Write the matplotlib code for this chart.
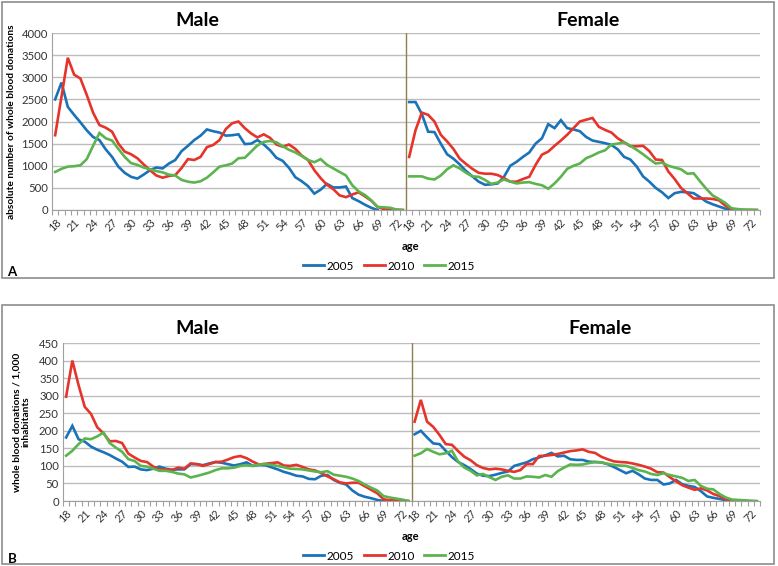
import numpy as np
import matplotlib
matplotlib.use("Agg")
import matplotlib.pyplot as plt
from matplotlib.patches import Rectangle
from matplotlib.lines import Line2D

W, H = 778, 566

ages = list(range(18, 74))
tick_ages = list(range(18, 73, 3))
years = ["2005", "2010", "2015"]
colors = ["#1a72b8", "#e5342b", "#5cb44e"]

# Panel A - absolute number of whole blood donations (ages 18..73)
male_abs_2005 = [2500, 2880, 2330, 2150, 1980, 1800, 1650, 1580, 1370, 1200,
                 980, 840, 750, 710, 800, 900, 960, 940, 1050, 1130,
                 1330, 1450, 1580, 1680, 1820, 1780, 1750, 1680, 1690, 1710,
                 1490, 1500, 1580, 1480, 1350, 1180, 1110, 950, 740, 650,
                 540, 370, 460, 590, 510, 510, 530, 270, 200, 120,
                 50, 0]
male_abs_2010 = [1690, 2560, 3440, 3060, 2970, 2600, 2200, 1920, 1860, 1770,
                 1500, 1320, 1260, 1170, 1030, 900, 780, 730, 770, 790,
                 950, 1150, 1130, 1200, 1420, 1470, 1580, 1830, 1960, 2000,
                 1850, 1730, 1640, 1710, 1630, 1480, 1430, 1480, 1380, 1230,
                 1130, 900, 720, 570, 470, 330, 290, 350, 400, 310,
                 210, 70, 20, 20, 5, 0]
male_abs_2015 = [860, 930, 980, 990, 1010, 1150, 1450, 1740, 1620, 1570,
                 1380, 1200, 1060, 1020, 960, 920, 880, 850, 800, 780,
                 680, 640, 620, 650, 730, 850, 980, 1010, 1050, 1170,
                 1180, 1320, 1460, 1540, 1560, 1530, 1440, 1360, 1300, 1220,
                 1130, 1080, 1150, 1020, 940, 860, 780, 560, 420, 340,
                 220, 70, 60, 50, 10, 0]
female_abs_2005 = [2440, 2440, 2170, 1770, 1760, 1500, 1260, 1160, 1030, 880,
                   760, 640, 570, 580, 600, 750, 1000, 1090, 1200, 1300,
                   1500, 1620, 1940, 1850, 2030, 1850, 1820, 1780, 1650, 1570,
                   1540, 1510, 1470, 1370, 1200, 1140, 980, 760, 640, 500,
                   400, 270, 380, 410, 400, 380, 290, 190, 130, 80,
                   30, 5, 0]
female_abs_2010 = [1200, 1800, 2200, 2150, 2000, 1700, 1550, 1380, 1160, 1040,
                   930, 840, 820, 820, 790, 720, 640, 640, 700, 750,
                   1020, 1250, 1320, 1450, 1570, 1700, 1850, 2000, 2040, 2080,
                   1880, 1810, 1750, 1620, 1530, 1440, 1440, 1450, 1330, 1140,
                   1130, 870, 700, 500, 380, 260, 260, 260, 250, 220,
                   100, 20, 5, 0, 0, 0]
female_abs_2015 = [760, 760, 760, 710, 690, 780, 920, 1010, 940, 840,
                   760, 750, 680, 590, 620, 690, 640, 600, 620, 630,
                   590, 560, 480, 600, 750, 930, 1000, 1050, 1170, 1230,
                   1300, 1350, 1480, 1500, 1530, 1450, 1360, 1260, 1150, 1050,
                   1070, 1000, 960, 920, 820, 830, 650, 480, 330, 250,
                   160, 40, 20, 10, 5, 0]

# Panel B - whole blood donations per 1,000 inhabitants (ages 18..73)
male_rate_2005 = [181, 214, 176, 169, 155, 146, 139, 131, 121, 112,
                  97, 98, 90, 88, 92, 98, 92, 89, 90, 90,
                  105, 105, 102, 107, 111, 109, 105, 101, 105, 110,
                  100, 103, 102, 96, 90, 83, 78, 72, 70, 63,
                  62, 72, 74, 60, 52, 47, 30, 18, 12, 8,
                  3, 0]
male_rate_2010 = [297, 400, 330, 268, 248, 210, 193, 170, 171, 165,
                  135, 124, 114, 111, 98, 90, 90, 88, 95, 92,
                  107, 105, 100, 105, 111, 112, 118, 125, 128, 122,
                  112, 104, 106, 108, 110, 101, 100, 103, 97, 90,
                  87, 80, 70, 62, 53, 50, 52, 52, 42, 32,
                  22, 5, 2, 2, 0, 0]
male_rate_2015 = [129, 143, 162, 178, 176, 184, 195, 165, 152, 140,
                  119, 114, 100, 98, 92, 86, 86, 83, 78, 76,
                  67, 71, 76, 81, 88, 93, 93, 95, 100, 102,
                  100, 104, 105, 103, 100, 96, 92, 91, 90, 87,
                  84, 82, 85, 75, 72, 69, 64, 57, 47, 38,
                  30, 14, 10, 7, 4, 0]
female_rate_2005 = [190, 200, 181, 164, 162, 143, 125, 111, 102, 91,
                    78, 72, 71, 75, 80, 84, 100, 105, 110, 119,
                    124, 130, 137, 127, 129, 119, 117, 117, 112, 111,
                    110, 105, 97, 88, 79, 86, 76, 64, 60, 60,
                    47, 50, 60, 48, 43, 40, 28, 13, 9, 6,
                    2, 0]
female_rate_2010 = [226, 288, 226, 211, 188, 162, 160, 142, 126, 116,
                    102, 94, 90, 92, 90, 86, 83, 88, 105, 105,
                    128, 129, 131, 134, 138, 142, 144, 147, 140, 137,
                    126, 119, 113, 111, 110, 107, 103, 98, 92, 82,
                    81, 68, 56, 45, 38, 32, 36, 30, 20, 14,
                    5, 2, 0, 0]
female_rate_2015 = [129, 136, 148, 140, 133, 136, 143, 112, 95, 86,
                    73, 77, 68, 60, 69, 73, 64, 64, 70, 69,
                    67, 74, 69, 85, 95, 104, 103, 104, 108, 111,
                    110, 106, 103, 101, 100, 94, 88, 84, 77, 74,
                    79, 74, 70, 66, 57, 60, 43, 35, 33, 20,
                    10, 4, 3, 2, 1, 0]


def pad(vals):
    # series stop where the curve ends; rest is no data
    return np.array(vals + [np.nan] * (len(ages) - len(vals)), dtype=float)


def fx(px):
    return px / W


def fy(py):
    return 1 - py / H


plt.rcParams["font.family"] = ["Lato", "DejaVu Sans"]
fig = plt.figure(figsize=(W / 100, H / 100), dpi=100)


def draw_panel(box, area, male, female, ymax, ystep, ylabel, ylabel_x, letter,
               title_y, female_x, age_y, legend_y, letter_y):
    top, bottom = box
    fig.patches.append(Rectangle((fx(2), fy(bottom)), fx(774) - fx(2), fy(top) - fy(bottom),
                                 transform=fig.transFigure, fill=False,
                                 edgecolor="#8c8c8c", linewidth=1.2))
    left, right, atop, abot = area
    ax = fig.add_axes([fx(left), fy(abot), fx(right) - fx(left), fy(atop) - fy(abot)])

    n = len(ages)
    xm = np.arange(n)
    xf = np.arange(n) + n
    for vals, c in zip(male, colors):
        ax.plot(xm, pad(vals), color=c, linewidth=1.9, solid_joinstyle="miter")
    for vals, c in zip(female, colors):
        ax.plot(xf, pad(vals), color=c, linewidth=1.9, solid_joinstyle="miter")

    ax.set_xlim(-0.5, 2 * n - 0.5)
    ax.set_ylim(0, ymax)
    ax.set_yticks(np.arange(0, ymax + 1, ystep))
    ax.yaxis.grid(True, color="#bdbdbd", linewidth=1.0)
    ax.set_axisbelow(True)
    ax.axvline(n - 0.5, color="#8f7f4e", linewidth=1.0)

    pos = [ages.index(a) for a in tick_ages]
    ax.set_xticks(pos + [p + n for p in pos])
    ax.set_xticklabels([str(a) for a in tick_ages] * 2, rotation=45, ha="right",
                       rotation_mode="anchor", fontsize=7.8, color="#333333")
    ax.set_xticks(np.arange(-0.5, 2 * n, 1), minor=True)
    ax.tick_params(axis="x", which="major", length=0, pad=5)
    ax.tick_params(axis="x", which="minor", length=3.5, color="#a0a0a0", width=0.8)
    ax.tick_params(axis="y", length=0, labelsize=8.2, colors="#333333", pad=3)

    for s in ["top", "right"]:
        ax.spines[s].set_visible(False)
    ax.spines["left"].set_color("#a0a0a0")
    ax.spines["bottom"].set_color("#a0a0a0")

    fig.text(fx(197), fy(title_y), "Male", ha="center", va="center",
             fontsize=14, fontweight="bold")
    fig.text(fx(female_x), fy(title_y), "Female", ha="center", va="center",
             fontsize=14, fontweight="bold")

    fig.text(fx(ylabel_x), fy((atop + abot) / 2), ylabel, rotation=90, ha="center",
             va="center", fontsize=7.3, fontweight="bold", linespacing=1.0)
    fig.text(fx(410), fy(age_y), "age", ha="center", va="center",
             fontsize=8, fontweight="bold")
    fig.text(fx(12), fy(letter_y), letter, ha="center", va="center",
             fontsize=9.5, fontweight="bold")

    handles = [Line2D([], [], color=c, linewidth=2) for c in colors]
    fig.legend(handles, years, loc="center", bbox_to_anchor=(fx(389), fy(legend_y)),
               ncol=3, frameon=False, fontsize=8.5, handlelength=1.8,
               handletextpad=0.2, columnspacing=0.8, borderaxespad=0, borderpad=0)
    return ax


draw_panel((2, 278), (52, 760, 33, 210),
           [male_abs_2005, male_abs_2010, male_abs_2015],
           [female_abs_2005, female_abs_2010, female_abs_2015],
           4000, 500, "absolute number of whole blood donations", 12, "A",
           21, 588, 246, 266, 272)

draw_panel((305, 564), (63, 760, 343, 501),
           [male_rate_2005, male_rate_2010, male_rate_2015],
           [female_rate_2005, female_rate_2010, female_rate_2015],
           450, 50, "whole blood donations / 1,000\ninhabitants", 22, "B",
           328, 600, 536, 556, 559)

fig.savefig("out.png", dpi=100)
